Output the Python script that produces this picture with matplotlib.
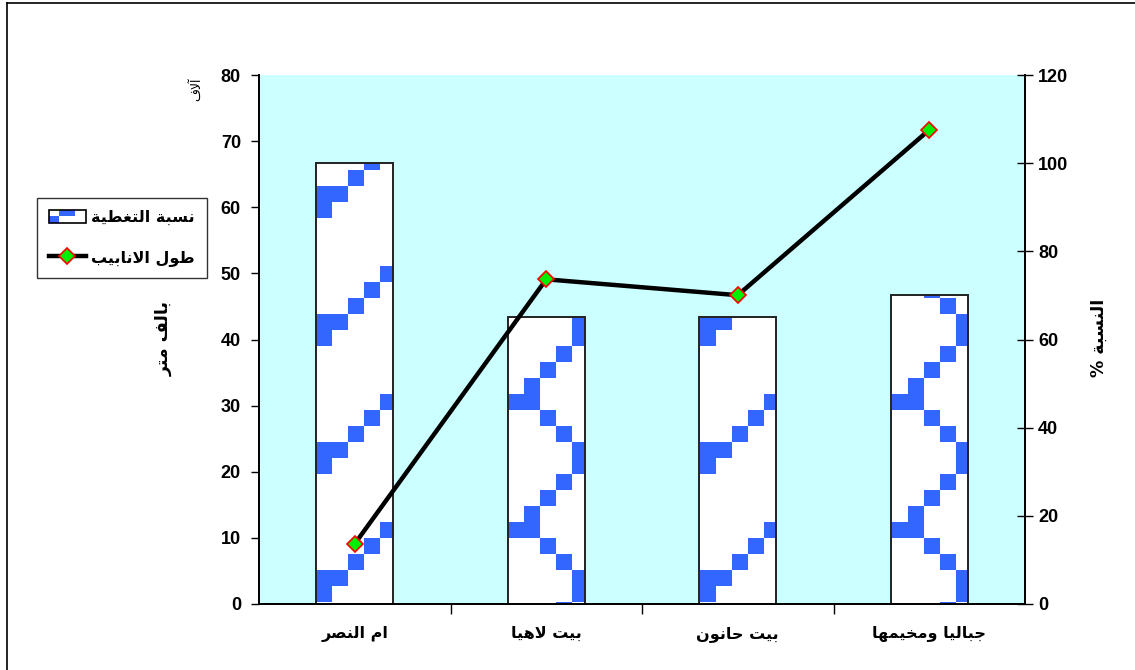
import numpy as np
import matplotlib
matplotlib.use("Agg")
import matplotlib.pyplot as plt
from matplotlib.patches import Rectangle
from matplotlib.lines import Line2D
from matplotlib.legend_handler import HandlerBase

# ---------------- data ----------------
areas = ["ام النصر", "بيت لاهيا", "بيت حانون", "جباليا ومخيمها"]
pipe_length = [9.1, 49.1, 46.7, 71.7]      # thousand metres (left axis)
coverage_pct = [100, 65, 65, 70]           # percent (right axis)
left_ticks = [0, 10, 20, 30, 40, 50, 60, 70, 80]
right_ticks = [0, 20, 40, 60, 80, 100, 120]
coverage_name = "نسبة التغطية"
length_name = "طول الانابيب"
left_title = "بالف متر"
right_title = "النسبة"
corner_note = "آلاف"

# ---------------- minimal Arabic shaping ----------------
FORMS = {
    'ا': ('\uFE8D', '\uFE8E', None, None),
    'آ': ('\uFE81', '\uFE82', None, None),
    'ب': ('\uFE8F', '\uFE90', '\uFE91', '\uFE92'),
    'ة': ('\uFE93', '\uFE94', None, None),
    'ت': ('\uFE95', '\uFE96', '\uFE97', '\uFE98'),
    'ج': ('\uFE9D', '\uFE9E', '\uFE9F', '\uFEA0'),
    'ح': ('\uFEA1', '\uFEA2', '\uFEA3', '\uFEA4'),
    'خ': ('\uFEA5', '\uFEA6', '\uFEA7', '\uFEA8'),
    'ر': ('\uFEAD', '\uFEAE', None, None),
    'س': ('\uFEB1', '\uFEB2', '\uFEB3', '\uFEB4'),
    'ص': ('\uFEB9', '\uFEBA', '\uFEBB', '\uFEBC'),
    'ط': ('\uFEC1', '\uFEC2', '\uFEC3', '\uFEC4'),
    'غ': ('\uFECD', '\uFECE', '\uFECF', '\uFED0'),
    'ف': ('\uFED1', '\uFED2', '\uFED3', '\uFED4'),
    'ل': ('\uFEDD', '\uFEDE', '\uFEDF', '\uFEE0'),
    'م': ('\uFEE1', '\uFEE2', '\uFEE3', '\uFEE4'),
    'ن': ('\uFEE5', '\uFEE6', '\uFEE7', '\uFEE8'),
    'ه': ('\uFEE9', '\uFEEA', '\uFEEB', '\uFEEC'),
    'و': ('\uFEED', '\uFEEE', None, None),
    'ي': ('\uFEF1', '\uFEF2', '\uFEF3', '\uFEF4'),
}
LAM_ALEF = {'ا': ('\uFEFB', '\uFEFC'), 'آ': ('\uFEF5', '\uFEF6')}


def ar(text):
    """Return Arabic text in presentation forms, in visual (left-to-right) order."""
    items, i = [], 0
    while i < len(text):
        ch = text[i]
        if ch == 'ل' and i + 1 < len(text) and text[i + 1] in LAM_ALEF:
            items.append(('LA', text[i + 1]))
            i += 2
        else:
            items.append(ch)
            i += 1

    def joins_next(it):
        return isinstance(it, str) and it in FORMS and FORMS[it][2] is not None

    def joins_prev(it):
        return isinstance(it, tuple) or it in FORMS

    out = []
    for k, it in enumerate(items):
        prev = items[k - 1] if k > 0 else None
        nxt = items[k + 1] if k + 1 < len(items) else None
        p = prev is not None and joins_next(prev) and joins_prev(it)
        n = nxt is not None and joins_next(it) and joins_prev(nxt)
        if isinstance(it, tuple):
            iso, fin = LAM_ALEF[it[1]]
            out.append(fin if p else iso)
        elif it in FORMS:
            iso, fin, ini, med = FORMS[it]
            if p and n:
                out.append(med)
            elif p:
                out.append(fin)
            elif n:
                out.append(ini)
            else:
                out.append(iso)
        else:
            out.append(it)
    return ''.join(reversed(out))


# ---------------- figure ----------------
W, H = 1135, 670
fig = plt.figure(figsize=(W / 100, H / 100), dpi=100)
fig.patch.set_facecolor("white")

AR_FONT = ["DejaVu Sans"]
NUM_FONT = "Liberation Sans"
BLUE = "#3366FF"
CYAN = "#CCFFFF"

left, right, bottom, top = 259 / W, 1025 / W, 1 - 604 / H, 1 - 75 / H
ax = fig.add_axes([left, bottom, right - left, top - bottom])
ax2 = ax.twinx()

# bars live on the percent axis, drawn underneath the line axes
ax.set_zorder(2)
ax.patch.set_visible(False)
ax2.patch.set_visible(True)
ax2.patch.set_facecolor(CYAN)

x = np.arange(len(areas))
bar_w = 0.4

# zig-zag fill texture, 16 px cells on an 8x8 tile
tile = np.zeros((8, 8), dtype=bool)
for rr, cols in enumerate([(0, 7), (1, 6), (2, 5), (3, 4), (3,), (2,), (1,), (0,)]):
    for cc in cols:
        tile[rr, cc] = True
ys = ((np.arange(H) - 10) // 16) % 8
xs = ((np.arange(W) - 12) // 16) % 8
mask = tile[ys[:, None], xs[None, :]]
tex = np.ones((H, W, 3))
tex[mask] = matplotlib.colors.to_rgb(BLUE)

bars = ax2.bar(x, coverage_pct, width=bar_w, color="white", edgecolor="none", zorder=2)
for b in bars:
    im = ax2.imshow(tex, extent=(0, 1, 0, 1), transform=fig.transFigure,
                    origin="upper", interpolation="nearest", aspect="auto", zorder=2.5)
    im.set_clip_path(b)
ax2.bar(x, coverage_pct, width=bar_w, fill=False, edgecolor="#222222", linewidth=1.4, zorder=3)

ax.plot(x, pipe_length, color="black", linewidth=3.2, marker="D", markersize=8,
        markerfacecolor="#00EE00", markeredgecolor="red", markeredgewidth=1.2,
        zorder=5, clip_on=False)

# axes limits and ticks
ax.set_xlim(-0.5, len(areas) - 0.5)
ax2.set_xlim(-0.5, len(areas) - 0.5)
ax.set_ylim(0, 80)
ax2.set_ylim(0, 120)

ax.set_yticks(left_ticks)
ax.set_yticklabels([str(v) for v in left_ticks], fontfamily=NUM_FONT, fontweight="bold", fontsize=13)
ax.tick_params(axis="y", direction="out", length=6, width=1, pad=7, color="black")
ax2.set_yticks(right_ticks)
ax2.set_yticklabels([str(v) for v in right_ticks], fontfamily=NUM_FONT, fontweight="bold", fontsize=13)
ax2.tick_params(axis="y", direction="inout", length=11, width=1, pad=4, color="black")

ax.set_xticks(x)
ax.set_xticklabels([ar(a) for a in areas], fontfamily=AR_FONT, fontweight="bold", fontsize=11.5)
ax.tick_params(axis="x", which="major", length=0, pad=16)
ax.set_xticks(x[:-1] + 0.5, minor=True)
ax.tick_params(axis="x", which="minor", direction="out", length=7, width=1, color="black")

for a in (ax, ax2):
    a.spines["top"].set_visible(False)
    for s in ("left", "right", "bottom"):
        a.spines[s].set_linewidth(1.3)
        a.spines[s].set_color("black")

# axis titles
fig.text(164 / W, 1 - 338 / H, ar(left_title), rotation=90, ha="center", va="center",
         fontfamily=AR_FONT, fontweight="bold", fontsize=12.5)
fig.text(1099 / W, 1 - 338 / H, "% " + ar(right_title), rotation=90, ha="center", va="center",
         fontfamily=AR_FONT, fontweight="bold", fontsize=12.5)
fig.text(197 / W, 1 - 89 / H, ar(corner_note), rotation=90, ha="center", va="center",
         fontfamily=AR_FONT, fontsize=9)


# legend with a small textured swatch for the coverage bars
class SwatchHandler(HandlerBase):
    def create_artists(self, legend, orig_handle, xdescent, ydescent, width, height, fontsize, trans):
        x0, y0 = -xdescent, -ydescent
        bg = Rectangle((x0, y0), width, height, facecolor="white", edgecolor="none", transform=trans)
        b1 = Rectangle((x0, y0), width * 0.28, height * 0.5, facecolor=BLUE, edgecolor="none", transform=trans)
        b2 = Rectangle((x0 + width * 0.28, y0 + height * 0.5), width * 0.42, height * 0.5,
                       facecolor=BLUE, edgecolor="none", transform=trans)
        fr = Rectangle((x0, y0), width, height, facecolor="none", edgecolor="black", linewidth=1.2, transform=trans)
        return [bg, b1, b2, fr]


bar_handle = Rectangle((0, 0), 1, 1)
line_handle = Line2D([], [], color="black", linewidth=3.2, marker="D", markersize=8,
                     markerfacecolor="#00EE00", markeredgecolor="red", markeredgewidth=1.2)
leg = fig.legend([bar_handle, line_handle], [ar(coverage_name), ar(length_name)],
                 handler_map={Rectangle: SwatchHandler()},
                 loc="upper left", bbox_to_anchor=(37 / W, 1 - 198 / H), bbox_transform=fig.transFigure,
                 borderaxespad=0, frameon=True, fancybox=False, shadow=False,
                 prop={"family": AR_FONT, "weight": "bold", "size": 11.5},
                 handlelength=2.3, handleheight=0.85, handletextpad=0.35, labelspacing=1.55,
                 borderpad=0.75)
leg.get_frame().set_edgecolor("black")
leg.get_frame().set_linewidth(1.0)

# outer chart frame
fig.add_artist(Line2D([7 / W, 7 / W], [0, 1 - 3 / H], transform=fig.transFigure, color="black", linewidth=1.2))
fig.add_artist(Line2D([7 / W, 1], [1 - 3 / H, 1 - 3 / H], transform=fig.transFigure, color="black", linewidth=1.2))

fig.savefig("out.png", dpi=100)
